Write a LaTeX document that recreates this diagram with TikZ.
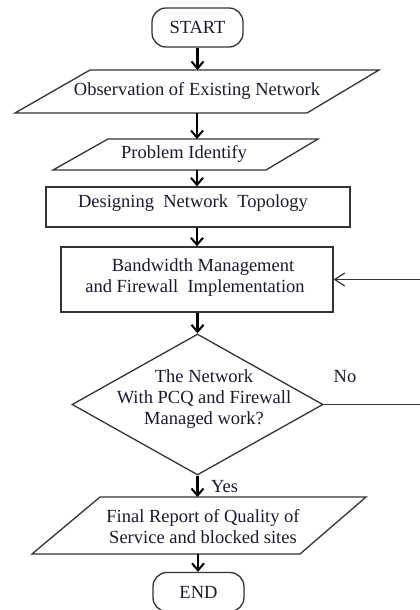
\documentclass[tikz,border=0pt]{standalone}
\usepackage{fontspec}
\setmainfont{Liberation Serif}
\usetikzlibrary{arrows.meta,shapes.geometric}
\definecolor{ink}{HTML}{1A1A2E}
\definecolor{edge}{HTML}{333333}
\begin{document}
\begin{tikzpicture}[x=1pt,y=-1pt,
  shp/.style={draw=edge, line width=1.3pt},
  frame/.style={inner sep=0pt, outer sep=0pt, minimum width=1pt, draw=none},
  lbl/.style={font=\fontsize{18.5}{21}\selectfont, text=ink, align=center, inner sep=0pt},
  term/.style={shp, lbl, rounded corners=14pt, minimum width=91pt, minimum height=39pt},
  box/.style={shp, lbl},
  flow/.style={draw=black, line width=2.4pt, -{Straight Barb[length=7pt,width=12pt,line width=2pt]}},
  back/.style={draw=edge, line width=1.3pt, -{Straight Barb[length=10pt,width=13pt,line width=1.2pt]}}
]
\useasboundingbox (0,0) rectangle (420,610);

% START
\node[term] (start) at (197.5,27.5) {START};

% Observation
\draw[shp] (90,70) -- (379,70) -- (307,113) -- (15,113) -- cycle;
\node[frame, minimum height=43pt] (obs) at (197,91.5) {};
\node[lbl] (obst) at (197,91) {Observation of Existing Network};

% Problem Identify
\draw[shp] (108,139) -- (318,139) -- (266,170) -- (53,170) -- cycle;
\node[frame, minimum height=31pt] (prob) at (197,154.5) {};
\node[lbl] (probt) at (184,154) {Problem Identify};

% Designing
\node[box, minimum width=304pt, minimum height=40pt] (des) at (198,207) {};
\node[lbl] (dest) at (193,203) {Designing\ \ Network\ \ Topology};

% Bandwidth
\node[box, minimum width=272pt, minimum height=65pt] (bw) at (197,279.5) {};
\node[lbl] (bwt) at (195,278) {\hspace*{16pt}Bandwidth Management\\and Firewall\ \ Implementation};

% Decision
\node[shp, diamond, minimum width=251pt, minimum height=141pt, inner sep=0pt] (dec) at (197.5,404.5) {};
\node[lbl] (dect) at (204,399) {The Network\\With PCQ and Firewall\\Managed work?};
\node[lbl] (no) at (345,377) {No};

% Final report
\draw[shp] (100,497) -- (366,497) -- (300,554) -- (32,554) -- cycle;
\node[frame, minimum height=57pt] (fin) at (198,525.5) {};
\node[lbl] (fint) at (203,527) {Final Report of Quality of\\Service and blocked sites};

% END
\node[term] (end) at (198.5,592) {END};

% connectors
\draw[flow] (start.south) -- (start.south |- obs.north);
\draw[flow] (obs.south) -- (obs.south |- prob.north);
\draw[flow] (prob.south) -- (prob.south |- des.north);
\draw[flow] (des.south -| prob.south) -- (prob.south |- bw.north);
\draw[flow] (bw.south -| dec.north) -- (dec.north);
\draw[flow] (dec.south) -- (dec.south |- fin.north);
\node[lbl, anchor=west] (yes) at (211,487) {Yes};
\draw[flow] (fin.south) -- (fin.south |- end.north);

\coordinate (c1) at (424,404.5);
\coordinate (c2) at (424,279.5);
\draw[back] (dec.east) -- (c1) -- (c2) -- (bw.east);
\end{tikzpicture}
\end{document}
